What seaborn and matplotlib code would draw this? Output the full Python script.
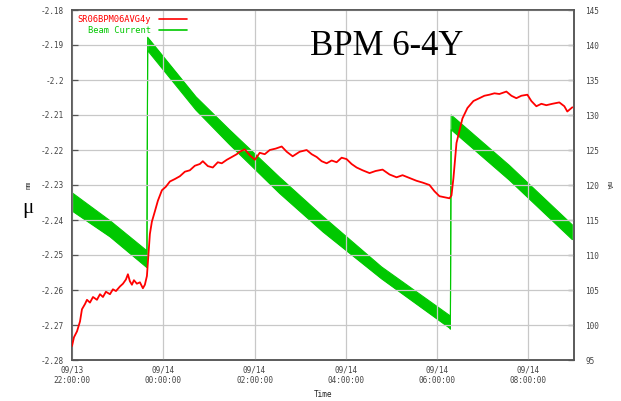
import numpy as np
import pandas as pd
import matplotlib
matplotlib.use("Agg")
import matplotlib.pyplot as plt
import matplotlib.dates as mdates
from matplotlib.lines import Line2D
from matplotlib.ticker import FuncFormatter
import seaborn as sns

# ---- data -------------------------------------------------------------
start = pd.Timestamp("2008-09-13 22:00:00")

# BPM vertical position (mm), minutes after 22:00
bpm_minutes = [0, 2.6, 6.6, 10.5, 13.1, 17.1, 19.7, 23.6, 27.6, 32.8, 36.8, 40.7,
               44.6, 49.9, 53.8, 57.8, 63.0, 67.0, 70.9, 73.5, 76.1, 78.8, 81.4,
               85.3, 89.3, 93.2, 95.8, 98.5, 99.8, 102.4, 105.0, 109.0, 112.9,
               118.2, 123.4, 128.7, 135.2, 141.8, 148.4, 154.9, 161.5, 168.1,
               172.0, 178.6, 185.1, 191.7, 196.9, 203.5, 210.1, 216.6, 220.6,
               227.1, 233.7, 240.3, 246.8, 253.4, 260.0, 267.8, 275.7, 282.3,
               290.1, 299.3, 308.5, 315.1, 321.7, 328.2, 334.8, 341.4, 347.9,
               354.5, 361.0, 367.6, 374.2, 382.1, 391.2, 399.1, 408.3, 417.5,
               426.7, 434.6, 443.8, 453.0, 460.8, 470.0, 476.6, 483.1, 489.7,
               496.3, 498.9, 501.5, 505.5, 509.4, 513.3, 519.9, 527.8, 535.6,
               542.2, 548.8, 555.4, 561.9, 571.1, 577.7, 584.2, 590.8, 598.7,
               603.9, 610.5, 617.1, 623.6, 631.5, 640.7, 647.3, 651.2, 657.8]
bpm_mm = [-2.2760, -2.2735, -2.2718, -2.2690, -2.2655, -2.2640, -2.2628, -2.2636,
          -2.2620, -2.2628, -2.2612, -2.2620, -2.2605, -2.2612, -2.2598, -2.2603,
          -2.2590, -2.2582, -2.2570, -2.2555, -2.2575, -2.2585, -2.2572, -2.2582,
          -2.2578, -2.2595, -2.2585, -2.2560, -2.2520, -2.2440, -2.2405, -2.2375,
          -2.2345, -2.2315, -2.2305, -2.2290, -2.2283, -2.2275, -2.2262, -2.2258,
          -2.2245, -2.2240, -2.2232, -2.2246, -2.2250, -2.2235, -2.2238, -2.2228,
          -2.2220, -2.2212, -2.2205, -2.2198, -2.2215, -2.2228, -2.2208, -2.2212,
          -2.2200, -2.2196, -2.2190, -2.2205, -2.2218, -2.2205, -2.2200, -2.2212,
          -2.2220, -2.2232, -2.2238, -2.2230, -2.2235, -2.2222, -2.2226, -2.2240,
          -2.2250, -2.2258, -2.2266, -2.2260, -2.2256, -2.2270, -2.2278, -2.2272,
          -2.2280, -2.2288, -2.2293, -2.2300, -2.2318, -2.2332, -2.2335, -2.2338,
          -2.2330, -2.2280, -2.2180, -2.2145, -2.2110, -2.2080, -2.2060, -2.2052,
          -2.2045, -2.2042, -2.2038, -2.2040, -2.2033, -2.2045, -2.2052, -2.2045,
          -2.2042, -2.2060, -2.2075, -2.2068, -2.2072, -2.2068, -2.2064, -2.2075,
          -2.2090, -2.2078]

# Beam current band (mA): upper and lower envelope, minutes after 22:00
beam_minutes = [0, 50, 98.5, 99.5, 163, 207, 273, 330, 407, 496, 497.5, 498.5, 575, 657.8]
beam_upper = [118.9, 114.9, 110.6, 141.1, 132.6, 127.9, 121.1, 115.5, 108.3, 101.4, 101.0, 130.0, 122.8, 114.3]
beam_lower = [116.3, 112.6, 108.2, 139.2, 130.7, 125.8, 118.8, 113.3, 106.6, 99.6, 99.4, 127.9, 120.7, 112.2]

left_ticks = [-2.18, -2.19, -2.2, -2.21, -2.22, -2.23, -2.24, -2.25, -2.26, -2.27, -2.28]
right_ticks = [95, 100, 105, 110, 115, 120, 125, 130, 135, 140, 145]

bpm_df = pd.DataFrame({"time": start + pd.to_timedelta(bpm_minutes, unit="min"),
                       "mm": bpm_mm})
beam_df = pd.DataFrame({"time": start + pd.to_timedelta(beam_minutes, unit="min"),
                        "upper": beam_upper, "lower": beam_lower})

# ---- styling ----------------------------------------------------------
sns.set_style("white")
plt.rcParams["font.family"] = ["DejaVu Sans Mono", "DejaVu Sans"]

RED = "#ff0000"
GREEN = "#00c800"
AXC = "#555555"
TXT = "#444444"

fig = plt.figure(figsize=(6.21, 4.01), dpi=100)
ax = fig.add_axes([72 / 621, 1 - 360 / 401, (574 - 72) / 621, 350 / 401])
ax2 = ax.twinx()

# beam current on the right axis
ax2.fill_between(beam_df["time"], beam_df["lower"], beam_df["upper"],
                 color=GREEN, linewidth=0, zorder=2)
sns.lineplot(data=beam_df, x="time", y="upper", ax=ax2, color=GREEN, lw=0.8,
             estimator=None, sort=False, zorder=3)
sns.lineplot(data=beam_df, x="time", y="lower", ax=ax2, color=GREEN, lw=0.8,
             estimator=None, sort=False, zorder=3)

# BPM position on the left axis
sns.lineplot(data=bpm_df, x="time", y="mm", ax=ax, color=RED, lw=1.3,
             estimator=None, sort=False, zorder=4)

# keep the red trace above the green band
ax.set_zorder(ax2.get_zorder() + 1)
ax.patch.set_visible(False)

xmin = start
xmax = start + pd.Timedelta(hours=11)
ax.set_xlim(xmin, xmax)
ax.set_ylim(-2.28, -2.18)
ax2.set_ylim(95, 145)

ax.set_yticks(left_ticks)
ax.yaxis.set_major_formatter(FuncFormatter(lambda v, p: f"{v:g}"))
ax2.set_yticks(right_ticks)

ax.xaxis.set_major_locator(mdates.HourLocator(byhour=range(0, 24, 2)))
ax.xaxis.set_minor_locator(mdates.HourLocator(byhour=range(1, 24, 2)))
ax.xaxis.set_major_formatter(mdates.DateFormatter("%m/%d\n%H:%M:%S"))

ax.grid(True, which="major", color="#c8c8c8", lw=0.9)
ax2.grid(False)

for a in (ax, ax2):
    for s in a.spines.values():
        s.set_color(AXC)
        s.set_linewidth(1.1)
    a.tick_params(which="both", direction="in", colors=AXC, labelcolor=TXT,
                  labelsize=5.6, length=4, width=0.9)
ax.tick_params(which="minor", length=3)
ax.tick_params(axis="x", pad=4)
ax.tick_params(axis="y", pad=6)
ax2.tick_params(axis="y", pad=8)
for lbl in ax.get_xticklabels():
    lbl.set_horizontalalignment("center")

ax.set_xlabel("Time", fontsize=5.6, color="#222222", labelpad=2)
ax.xaxis.set_label_coords(0.50, -0.085)
ax.set_ylabel("mm", fontsize=5, color=TXT, labelpad=4)
ax2.set_ylabel("mA", fontsize=5, color=TXT, rotation=-90, labelpad=6)
ax2.yaxis.set_label_coords(1.075, 0.5)
ax.yaxis.set_label_coords(-0.08, 0.5)

handles = [Line2D([], [], color=RED, lw=1.2), Line2D([], [], color=GREEN, lw=1.2)]
leg = ax.legend(handles, ["SR06BPM06AVG4y", "Beam Current"], loc="upper left",
                bbox_to_anchor=(0.0, 1.0), frameon=False, markerfirst=False,
                labelcolor=[RED, GREEN], prop={"family": "DejaVu Sans Mono", "size": 6.3},
                handlelength=3.2, handletextpad=0.9, borderaxespad=0.2,
                labelspacing=0.15)
for t in leg.get_texts():
    t.set_ha("right")

fig.text(0.500, 0.862, "BPM 6-4Y", fontsize=25, family="Liberation Serif", color="black")
fig.text(0.036, 0.470, "\u03bc", fontsize=15, family="Liberation Serif", color="black")

fig.savefig("out.png", dpi=100)
